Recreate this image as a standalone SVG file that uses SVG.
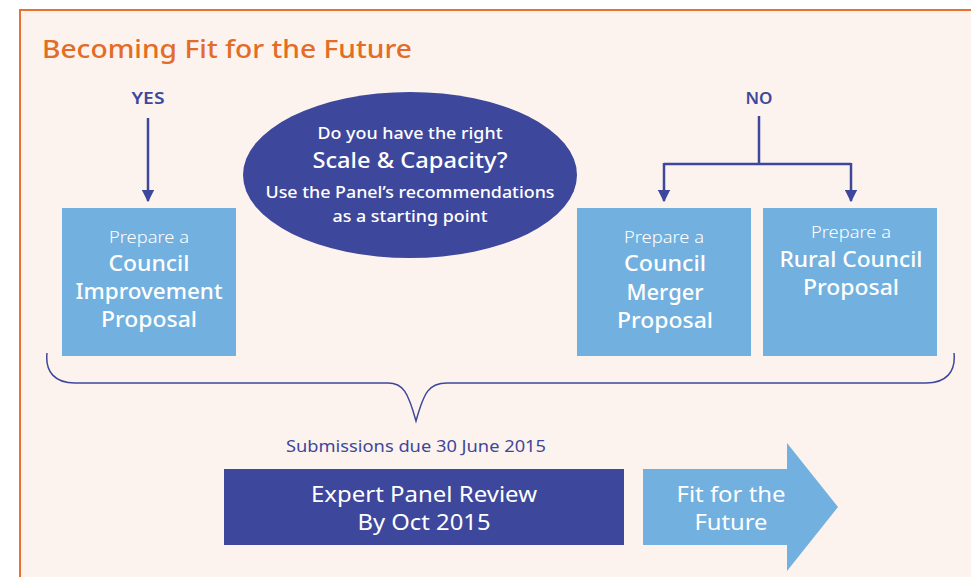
<svg xmlns="http://www.w3.org/2000/svg" width="971" height="577" viewBox="0 0 971 577">
<defs>
<style>
.t{font-family:"Noto Sans","Open Sans","Liberation Sans",sans-serif;}
.w{fill:#ffffff;text-anchor:middle;}
.n{fill:#3d479b;}
.sm{font-size:16px;font-weight:300;}
.lg{font-size:22px;font-weight:500;}
.box{fill:#72b0df;}
.line{fill:none;stroke:#3d479b;stroke-width:2.5;}
</style>
<marker id="ah" viewBox="0 0 10 10" refX="9" refY="5" markerWidth="5" markerHeight="5" markerUnits="strokeWidth" orient="auto">
<path d="M0,0 L10,5 L0,10 Z" fill="#3d479b"/>
</marker>
</defs>
<rect x="0" y="0" width="971" height="577" fill="#ffffff"/>
<rect x="20" y="10" width="970" height="600" fill="#fdf3ee" stroke="#e8732f" stroke-width="2"/>
<text class="t" x="42" y="58" font-size="26" font-weight="500" fill="#e36c26" textLength="370" lengthAdjust="spacingAndGlyphs">Becoming Fit for the Future</text>
<text class="t n" x="148" y="104" font-size="16" font-weight="600" text-anchor="middle" textLength="33" lengthAdjust="spacingAndGlyphs">YES</text>
<text class="t n" x="759" y="104" font-size="16" font-weight="600" text-anchor="middle" textLength="27" lengthAdjust="spacingAndGlyphs">NO</text>

<g id="connectors">
<path class="line" d="M148,118 L148,201" marker-end="url(#ah)"/>
<path class="line" d="M759,116 L759,164 M664,164 L851,164"/>
<path class="line" d="M664,163 L664,201" marker-end="url(#ah)"/>
<path class="line" d="M851,163 L851,201" marker-end="url(#ah)"/>
<path fill="none" stroke="#3d479b" stroke-width="1.5" d="M47,353 C45,372 55,383 75,383 L388,383 C403,383 408,392 416,421 C424,392 429,383 447,383 L926,383 C946,383 956,372 954,353"/>
</g>

<g id="decision">
<ellipse cx="410" cy="175" rx="167" ry="83" fill="#3d479b"/>
<text class="t w" x="410" y="139" font-size="16" font-weight="500" textLength="185" lengthAdjust="spacingAndGlyphs">Do you have the right</text>
<text class="t w" x="410" y="168" font-size="21" font-weight="500" textLength="195" lengthAdjust="spacingAndGlyphs">Scale &amp; Capacity?</text>
<text class="t w" x="410" y="198" font-size="16" font-weight="500" textLength="289" lengthAdjust="spacingAndGlyphs">Use the Panel’s recommendations</text>
<text class="t w" x="410" y="222" font-size="16" font-weight="500" textLength="155" lengthAdjust="spacingAndGlyphs">as a starting point</text>
</g>

<g id="improvement">
<rect class="box" x="62" y="208" width="174" height="148"/>
<text class="t w sm" x="149" y="243" textLength="80" lengthAdjust="spacingAndGlyphs">Prepare a</text>
<text class="t w lg" x="149" y="271" textLength="81" lengthAdjust="spacingAndGlyphs">Council</text>
<text class="t w lg" x="149" y="299" textLength="147" lengthAdjust="spacingAndGlyphs">Improvement</text>
<text class="t w lg" x="149" y="327" textLength="96" lengthAdjust="spacingAndGlyphs">Proposal</text>
</g>

<g id="merger">
<rect class="box" x="577" y="208" width="174" height="148"/>
<text class="t w sm" x="664" y="243" textLength="80" lengthAdjust="spacingAndGlyphs">Prepare a</text>
<text class="t w lg" x="665" y="271" textLength="82" lengthAdjust="spacingAndGlyphs">Council</text>
<text class="t w lg" x="665" y="300" textLength="77" lengthAdjust="spacingAndGlyphs">Merger</text>
<text class="t w lg" x="665" y="328" textLength="96" lengthAdjust="spacingAndGlyphs">Proposal</text>
</g>

<g id="rural">
<rect class="box" x="763" y="208" width="174" height="148"/>
<text class="t w sm" x="851" y="238" textLength="80" lengthAdjust="spacingAndGlyphs">Prepare a</text>
<text class="t w lg" x="851" y="267" textLength="143" lengthAdjust="spacingAndGlyphs">Rural Council</text>
<text class="t w lg" x="851" y="295" textLength="96" lengthAdjust="spacingAndGlyphs">Proposal</text>
</g>

<text class="t n" x="416" y="452" font-size="16" font-weight="400" text-anchor="middle" textLength="260" lengthAdjust="spacingAndGlyphs">Submissions due 30 June 2015</text>

<g id="review">
<rect x="224" y="469" width="400" height="76" fill="#3d479b"/>
<text class="t w" x="424" y="502" font-size="22" font-weight="400" textLength="226" lengthAdjust="spacingAndGlyphs">Expert Panel Review</text>
<text class="t w" x="424" y="530" font-size="22" font-weight="400" textLength="133" lengthAdjust="spacingAndGlyphs">By Oct 2015</text>
</g>

<g id="future">
<path d="M643,469 L787,469 L787,443 L838,507 L787,571 L787,545 L643,545 Z" fill="#72b0df"/>
<text class="t w" x="731" y="502" font-size="22" font-weight="400" textLength="109" lengthAdjust="spacingAndGlyphs">Fit for the</text>
<text class="t w" x="731" y="530" font-size="22" font-weight="400" textLength="73" lengthAdjust="spacingAndGlyphs">Future</text>
</g>
</svg>
